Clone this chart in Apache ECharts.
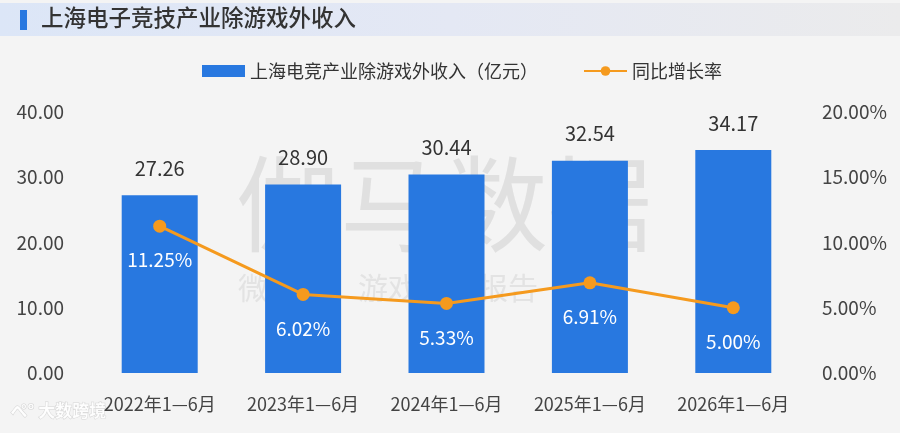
<!DOCTYPE html>
<html>
<head>
<meta charset="utf-8">
<script src="https://cdn.jsdelivr.net/npm/echarts@6/dist/echarts.min.js"></script>
<style>
  html, body { margin: 0; padding: 0; background: #f4f4f4; }
  #chart { width: 900px; height: 433px; }
</style>
</head>
<body>
<div id="chart"></div>
<script>
const categories = ['2022年1—6月', '2023年1—6月', '2024年1—6月', '2025年1—6月', '2026年1—6月'];
const revenue = [27.26, 28.90, 30.44, 32.54, 34.17];
const growth = [11.25, 6.02, 5.33, 6.91, 5.00];
const leftTicks = { min: 0, max: 40, interval: 10 };
const rightTicks = { min: 0, max: 20, interval: 5 };

const font = '"Noto Sans CJK SC", "Noto Sans", sans-serif';

const myChart = echarts.init(document.getElementById('chart'));
const option = {
  backgroundColor: '#f4f4f4',
  textStyle: { fontFamily: font },
  graphic: [
    {
      type: 'rect', left: 0, top: 3, z: -10,
      shape: { width: 900, height: 33 },
      style: {
        fill: new echarts.graphic.LinearGradient(0, 0, 1, 0, [
          { offset: 0, color: '#dce6f7' },
          { offset: 0.5, color: '#e4e8f4' },
          { offset: 1, color: '#ebebec' }
        ])
      }
    },
    { type: 'rect', left: 20, top: 10, shape: { width: 7, height: 20 }, style: { fill: '#2878e0' } },
    {
      type: 'text', left: 41, top: 6,
      style: { text: '上海电子竞技产业除游戏外收入', fill: '#333', font: '500 22.5px ' + font }
    },
    {
      type: 'text', left: 236, top: 152, z: -5,
      style: { text: '伽马数据', fill: '#e0e0e0', font: '104px ' + font, letterSpacing: 6 }
    },
    {
      type: 'text', left: 238, top: 273, z: -5,
      style: { text: '微信号：游戏产业报告', fill: '#e3e3e3', font: '30px ' + font, letterSpacing: 13 }
    },
    {
      type: 'text', left: 10, top: 402,
      style: { text: 'ぺ° 大数跨境', fill: '#ffffff', stroke: '#d0d0d0', lineWidth: 1, font: 'bold 17px ' + font, opacity: 0.9 }
    }
  ],
  legend: {
    top: 57,
    left: 197,
    itemGap: 45,
    itemWidth: 43,
    itemHeight: 12,
    textStyle: { fontSize: 18, color: '#333', fontFamily: font },
    data: [
      { name: '上海电竞产业除游戏外收入（亿元）', icon: 'rect' },
      { name: '同比增长率' }
    ]
  },
  grid: { left: 88, right: 95, top: 112, bottom: 60 },
  xAxis: {
    type: 'category',
    data: categories,
    axisLine: { show: false },
    axisTick: { show: false },
    axisLabel: { interval: 0, fontSize: 18, color: '#444', margin: 22, fontFamily: font }
  },
  yAxis: [
    {
      type: 'value',
      min: leftTicks.min, max: leftTicks.max, interval: leftTicks.interval,
      splitLine: { show: false },
      axisLabel: { fontSize: 19, color: '#444', margin: 24, formatter: v => v.toFixed(2), fontFamily: font }
    },
    {
      type: 'value',
      min: rightTicks.min, max: rightTicks.max, interval: rightTicks.interval,
      splitLine: { show: false },
      axisLabel: { fontSize: 19, color: '#444', margin: 17, formatter: v => v.toFixed(2) + '%', fontFamily: font }
    }
  ],
  series: [
    {
      name: '上海电竞产业除游戏外收入（亿元）',
      type: 'bar',
      data: revenue,
      barWidth: 76,
      itemStyle: { color: '#2878e0' },
      label: {
        show: true, position: 'top', distance: 17,
        fontSize: 20, color: '#333', fontFamily: font,
        formatter: p => p.value.toFixed(2)
      }
    },
    {
      name: '同比增长率',
      type: 'line',
      yAxisIndex: 1,
      data: growth,
      symbol: 'circle',
      symbolSize: 13,
      lineStyle: { width: 3, color: '#f59a1e' },
      itemStyle: { color: '#f59a1e' },
      label: {
        show: true, position: 'bottom', distance: 18,
        fontSize: 19, color: '#fff', fontFamily: font,
        formatter: p => p.value.toFixed(2) + '%'
      }
    }
  ]
};

option && myChart.setOption(option);
</script>
</body>
</html>
